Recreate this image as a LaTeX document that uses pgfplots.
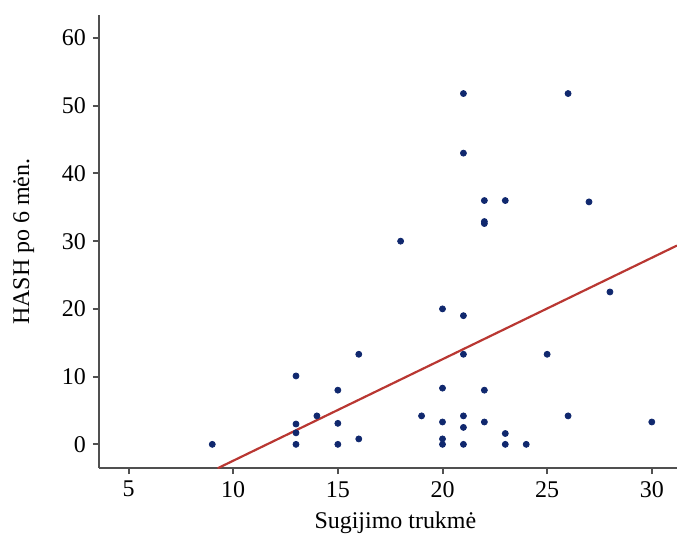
\documentclass[border=0pt]{standalone}
\usepackage{pgfplots}
\pgfplotsset{compat=1.18}
\usepackage{fontspec}
\setmainfont{Liberation Serif}
\definecolor{dotblue}{RGB}{16,40,110}
\definecolor{fitred}{RGB}{185,55,50}
\definecolor{axgray}{RGB}{80,80,80}

\begin{document}
\begin{tikzpicture}
\begin{axis}[
  scale only axis,
  width=289.5pt, height=227pt,
  xmin=3.58, xmax=31.2,
  ymin=-3.53, ymax=63.4,
  axis lines*=left,
  axis line style={-, axgray, line width=1.1pt},
  tick style={axgray, line width=1pt},
  tick align=outside,
  major tick length=3pt,
  xtick={5,10,...,30},
  ytick={0,10,...,60},
  tick label style={font=\fontsize{12}{14}\selectfont},
  /pgf/number format/assume math mode=true,
  xlabel={Sugijimo trukmė},
  ylabel={HASH po 6 mėn.},
  label style={font=\fontsize{12}{14}\selectfont},
  xlabel style={at={(axis description cs:0.513,-0.121)}, anchor=center},
  ylabel style={at={(axis description cs:-0.13,0.5)}, anchor=center},
  clip=true,
]
\addplot[only marks, mark=*, mark size=1.5pt, color=dotblue] coordinates {
  (9,0) (13,10.1) (13,3) (13,1.7) (13,0) (14,4.2) (15,8) (15,3.1) (15,0)
  (16,13.3) (16,0.8) (18,30) (19,4.2)
  (20,20) (20,8.3) (20,3.3) (20,0.8) (20,0)
  (21,51.8) (21,43) (21,19) (21,13.3) (21,4.2) (21,2.5) (21,0)
  (22,36) (22,32.6) (22,32.9) (22,8) (22,3.3)
  (23,36) (23,1.6) (23,0) (24,0) (25,13.3)
  (26,51.8) (26,4.2) (27,35.8) (28,22.5) (30,3.3)
};
\addplot[color=fitred, line width=1.1pt] coordinates {(9.26,-3.53) (31.2,29.35)};
\end{axis}
% blank margins round the axis, as in the reference
\path (-49.5pt,-36.5pt) coordinate (sw) (0,234.5pt) coordinate (nw);
\end{tikzpicture}
\end{document}
